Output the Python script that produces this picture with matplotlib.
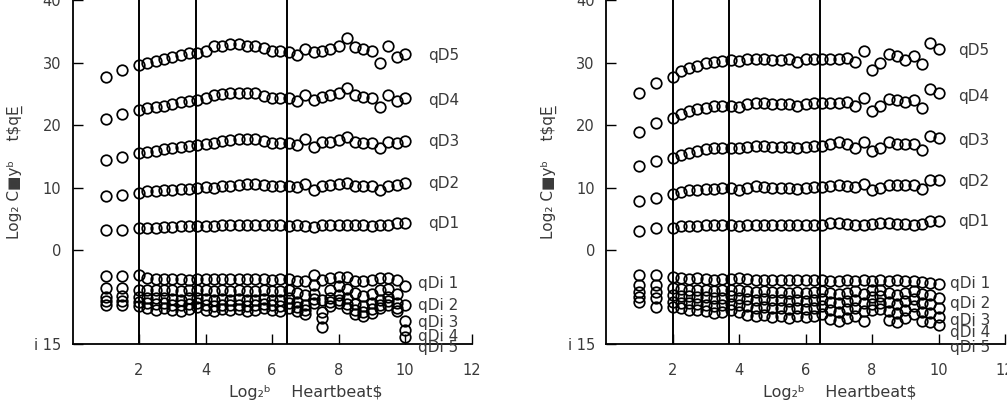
import numpy as np
import matplotlib
matplotlib.use("Agg")
import matplotlib.pyplot as plt

# ---------------- data ----------------
log_scale = [1, 1.5, 2, 2.25, 2.5, 2.75, 3, 3.25, 3.5, 3.75, 4, 4.25, 4.5, 4.75, 5, 5.25,
             5.5, 5.75, 6, 6.25, 6.5, 6.75, 7, 7.25, 7.5, 7.75, 8, 8.25, 8.5, 8.75, 9,
             9.25, 9.5, 9.75, 10]

left_q5 = [27.7, 28.8, 29.6, 30.0, 30.3, 30.6, 30.9, 31.2, 31.5, 31.6, 31.9, 32.6, 32.7, 33.0,
           33.0, 32.7, 32.6, 32.3, 31.9, 31.9, 31.7, 31.2, 32.2, 31.7, 31.9, 32.2, 32.6, 34.0,
           32.5, 32.1, 31.8, 30.0, 32.6, 30.9, 31.4]
left_q4 = [20.9, 21.7, 22.4, 22.7, 22.9, 23.1, 23.4, 23.7, 23.8, 24.0, 24.3, 24.8, 25.0, 25.2,
           25.2, 25.2, 25.1, 24.7, 24.4, 24.4, 24.4, 23.9, 24.8, 24.0, 24.5, 24.8, 25.1, 26.0,
           24.8, 24.5, 24.4, 22.9, 24.8, 23.9, 24.3]
left_q3 = [14.4, 14.9, 15.5, 15.7, 15.9, 16.1, 16.3, 16.5, 16.6, 16.8, 16.9, 17.2, 17.5, 17.6,
           17.7, 17.7, 17.7, 17.5, 17.2, 17.2, 17.1, 16.8, 17.7, 16.5, 17.3, 17.3, 17.6, 18.1,
           17.3, 17.2, 17.2, 16.3, 17.3, 17.1, 17.4]
left_q2 = [8.6, 8.8, 9.2, 9.4, 9.5, 9.6, 9.7, 9.8, 9.8, 9.9, 10.1, 9.9, 10.2, 10.3, 10.5, 10.6,
           10.6, 10.5, 10.3, 10.2, 10.2, 10.1, 10.6, 9.7, 10.3, 10.4, 10.6, 10.8, 10.2, 10.2,
           10.2, 9.7, 10.3, 10.4, 10.7]
left_q1 = [3.3, 3.3, 3.5, 3.6, 3.6, 3.7, 3.7, 3.8, 3.9, 3.9, 3.9, 3.9, 4.0, 4.0, 4.0, 4.0, 4.0,
           4.0, 4.0, 4.0, 3.9, 4.0, 3.9, 3.7, 4.0, 4.0, 4.0, 4.0, 4.0, 4.0, 3.9, 4.0, 4.1, 4.3, 4.4]
left_qm1 = [-4.1, -4.1, -4.0, -4.5, -4.6, -4.6, -4.6, -4.6, -4.7, -4.6, -4.6, -4.6, -4.6, -4.6,
            -4.6, -4.6, -4.6, -4.6, -4.7, -4.6, -4.6, -4.9, -4.9, -4.0, -4.8, -4.5, -4.3, -4.3,
            -4.9, -4.9, -4.8, -4.5, -4.5, -4.8, -5.8]
left_qm2 = [-6.1, -6.1, -6.3, -6.3, -6.4, -6.3, -6.4, -6.5, -6.4, -6.3, -6.4, -6.5, -6.4, -6.5,
            -6.4, -6.5, -6.5, -6.4, -6.5, -6.6, -6.4, -6.9, -7.2, -5.6, -8.0, -6.3, -5.8, -6.2,
            -6.9, -7.3, -7.0, -6.4, -6.2, -7.0, -8.8]
left_qm3 = [-7.5, -7.4, -7.5, -7.6, -7.7, -7.6, -7.8, -7.9, -7.7, -7.6, -7.8, -7.9, -7.8, -7.9,
            -7.8, -8.0, -7.9, -7.8, -7.9, -8.0, -7.7, -8.3, -8.8, -7.0, -9.9, -7.6, -7.1, -7.7,
            -8.6, -9.0, -8.5, -7.9, -7.5, -8.4, -11.3]
left_qm4 = [-8.2, -8.1, -8.3, -8.4, -8.6, -8.5, -8.7, -8.8, -8.6, -8.4, -8.7, -8.9, -8.7, -8.8,
            -8.7, -8.9, -8.8, -8.6, -8.8, -8.9, -8.5, -9.1, -9.6, -7.8, -10.9, -8.3, -7.9, -8.6,
            -9.5, -9.9, -9.4, -8.7, -8.2, -9.2, -12.8]
left_qm5 = [-8.8, -8.7, -9.0, -9.2, -9.6, -9.3, -9.5, -9.8, -9.4, -9.1, -9.5, -9.8, -9.4, -9.6,
            -9.4, -9.7, -9.6, -9.3, -9.6, -9.8, -9.2, -9.7, -10.2, -8.4, -12.3, -8.9, -8.5, -9.3,
            -10.2, -10.5, -10.0, -9.2, -8.8, -9.8, -13.9]

right_q5 = [25.2, 26.8, 27.7, 28.7, 29.2, 29.4, 29.9, 30.1, 30.3, 30.4, 30.2, 30.5, 30.6, 30.6,
            30.4, 30.4, 30.5, 30.1, 30.5, 30.6, 30.6, 30.6, 30.6, 30.8, 30.1, 31.9, 28.8, 30.0,
            31.3, 31.0, 30.4, 31.1, 29.7, 33.2, 32.2]
right_q4 = [18.9, 20.4, 21.1, 21.8, 22.3, 22.6, 22.8, 23.0, 23.1, 23.1, 22.9, 23.3, 23.6, 23.5,
            23.3, 23.3, 23.3, 23.0, 23.3, 23.5, 23.5, 23.6, 23.6, 23.7, 23.0, 24.4, 22.3, 23.0,
            24.1, 24.0, 23.7, 24.0, 22.7, 25.7, 25.1]
right_q3 = [13.5, 14.2, 14.8, 15.2, 15.6, 15.8, 16.1, 16.3, 16.4, 16.4, 16.3, 16.5, 16.7, 16.6,
            16.5, 16.5, 16.5, 16.4, 16.5, 16.7, 16.7, 17.0, 17.3, 17.0, 16.3, 17.3, 15.9, 16.4,
            17.3, 17.0, 17.0, 17.0, 16.0, 18.3, 18.0]
right_q2 = [7.9, 8.4, 9.0, 9.3, 9.6, 9.7, 9.8, 9.8, 9.9, 9.9, 9.7, 10.0, 10.2, 10.1, 9.9, 9.9,
            9.9, 9.8, 10.0, 10.1, 10.1, 10.3, 10.5, 10.2, 10.1, 10.6, 9.7, 9.9, 10.5, 10.5, 10.5,
            10.5, 9.8, 11.2, 11.2]
right_q1 = [3.1, 3.5, 3.6, 3.8, 3.8, 3.9, 4.0, 4.0, 4.0, 4.0, 3.9, 4.0, 4.0, 4.0, 4.0, 4.0,
            4.0, 4.0, 4.0, 4.0, 4.0, 4.4, 4.4, 4.2, 4.0, 4.0, 4.2, 4.4, 4.3, 4.2, 4.2, 4.0, 4.2,
            4.6, 4.6]
right_qm1 = [-4.0, -4.0, -4.3, -4.5, -4.6, -4.5, -4.6, -4.7, -4.6, -4.6, -4.5, -4.6, -4.8, -4.8,
             -4.8, -4.8, -4.8, -4.8, -4.8, -4.8, -4.7, -5.0, -4.9, -4.8, -4.9, -4.7, -4.9, -4.8,
             -4.9, -4.8, -4.9, -5.0, -5.1, -5.2, -5.4]
right_qm2 = [-5.6, -5.6, -6.1, -6.2, -6.3, -6.3, -6.4, -6.5, -6.4, -6.3, -6.4, -6.6, -6.7, -6.6,
             -6.7, -6.7, -6.8, -6.7, -6.8, -6.7, -6.6, -6.9, -7.0, -6.8, -6.6, -7.0, -6.4, -6.3,
             -6.9, -7.1, -6.8, -6.6, -7.0, -7.2, -7.7]
right_qm3 = [-6.7, -6.7, -7.2, -7.3, -7.4, -7.5, -7.5, -7.7, -7.6, -7.4, -7.6, -7.8, -7.9, -7.8,
             -8.0, -8.0, -8.1, -8.0, -8.1, -8.0, -7.8, -8.3, -8.5, -8.1, -8.0, -8.4, -7.5, -7.3,
             -8.3, -8.6, -8.2, -7.8, -8.5, -8.6, -9.3]
right_qm4 = [-7.5, -7.7, -8.3, -8.4, -8.5, -8.6, -8.7, -8.9, -8.8, -8.6, -8.8, -9.0, -9.2, -9.1,
             -9.3, -9.3, -9.4, -9.3, -9.4, -9.3, -9.0, -9.6, -9.9, -9.4, -9.3, -9.8, -8.6, -8.4,
             -9.7, -10.0, -9.5, -9.0, -9.9, -10.0, -10.7]
right_qm5 = [-8.3, -9.1, -9.1, -9.3, -9.5, -9.6, -9.8, -10.1, -9.9, -9.6, -9.9, -10.3, -10.6,
             -10.4, -10.7, -10.6, -10.8, -10.6, -10.7, -10.5, -10.2, -11.0, -11.4, -10.8, -10.6,
             -11.3, -9.6, -9.4, -11.2, -11.5, -10.9, -10.2, -11.3, -11.5, -12.0]

series_labels = ["qD5", "qD4", "qD3", "qD2", "qD1", "qDi 1", "qDi 2", "qDi 3", "qDi 4", "qDi 5"]
boundaries = [2.0, 3.7, 6.45]
xticks = [2, 4, 6, 8, 10, 12]
yticks = [-15, 0, 10, 20, 30, 40]
ytick_labels = ["i 15", "0", "10", "20", "30", "40"]

left_series = [left_q5, left_q4, left_q3, left_q2, left_q1,
               left_qm1, left_qm2, left_qm3, left_qm4, left_qm5]
right_series = [right_q5, right_q4, right_q3, right_q2, right_q1,
                right_qm1, right_qm2, right_qm3, right_qm4, right_qm5]

# label positions (layout)
left_label_pos = [(10.7, 31.2), (10.7, 24.0), (10.7, 17.3), (10.7, 10.7), (10.7, 4.3),
                  (10.4, -5.3), (10.4, -8.8), (10.4, -11.5), (10.4, -13.8), (10.4, -15.5)]
right_label_pos = [(10.6, 32.0), (10.6, 24.5), (10.6, 17.6), (10.6, 11.0), (10.6, 4.6),
                   (10.35, -5.3), (10.35, -8.5), (10.35, -11.2), (10.35, -13.1), (10.35, -15.5)]

# ---------------- figure ----------------
fig = plt.figure(figsize=(10.07, 4.01), dpi=100)
W, H = 1007, 401
axL = fig.add_axes([72.5 / W, 57 / H, 399 / W, 344 / H])
axR = fig.add_axes([606 / W, 57 / H, 399 / W, 344 / H])

txt_color = "#3a3a3a"

def draw(ax, series, label_pos, xlabel_x):
    for ys in series:
        ax.plot(log_scale, ys, linestyle="none", marker="o", markersize=7.6,
                markerfacecolor="none", markeredgecolor="black", markeredgewidth=1.25,
                clip_on=False, zorder=3)
    for b in boundaries:
        ax.axvline(b, color="black", linewidth=1.4, zorder=2)
    for lab, (lx, ly) in zip(series_labels, label_pos):
        ax.text(lx, ly, lab, fontsize=11, color=txt_color, ha="left", va="center",
                clip_on=False)
    ax.set_xlim(0, 12)
    ax.set_ylim(-15, 40)
    ax.set_xticks(xticks)
    ax.set_xticklabels([str(t) for t in xticks])
    ax.set_yticks(yticks)
    ax.set_yticklabels(ytick_labels)
    ax.tick_params(axis="both", direction="in", length=7, width=1.0, color="black",
                   labelsize=10.5, labelcolor=txt_color)
    ax.tick_params(axis="x", pad=14)
    ax.tick_params(axis="y", pad=8)
    for s in ["top", "right"]:
        ax.spines[s].set_visible(False)
    for s in ["left", "bottom"]:
        ax.spines[s].set_linewidth(1.3)
    ax.set_facecolor("white")
    ax.set_ylabel("Log\u2082 C\u25a0y\u1d47    t$qE\u0332", fontsize=11, color=txt_color,
                  labelpad=8)
    ax.text(xlabel_x, -0.142, "Log\u2082\u1d47    Heartbeat$", transform=ax.transAxes,
            fontsize=11.5, color=txt_color, ha="center", va="center", clip_on=False)

draw(axL, left_series, left_label_pos, 0.585)
draw(axR, right_series, right_label_pos, 0.585)

fig.savefig("out.png", dpi=100, facecolor="white")
